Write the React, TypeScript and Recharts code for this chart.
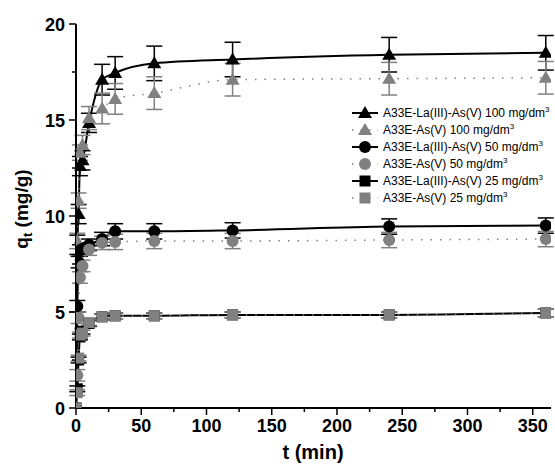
import React from "react";
import { ComposedChart, Line, XAxis, YAxis, ErrorBar, Customized } from "recharts";

const times = [0, 1, 2, 3, 5, 10, 20, 30, 60, 120, 240, 360];
const la100 = [0, 8.5, 10.1, 12.6, 12.9, 14.85, 17.1, 17.45, 17.95, 18.15, 18.4, 18.5];
const as100 = [0, 8.7, 10.8, 13.3, 13.7, 15.1, 15.6, 16.1, 16.4, 17.1, 17.15, 17.2];
const la50 = [0, 5.3, 7.6, 8.2, 8.3, 8.5, 8.8, 9.2, 9.2, 9.25, 9.45, 9.5];
const as50 = [0, 1.7, 4.7, 6.8, 7.4, 8.25, 8.6, 8.65, 8.7, 8.7, 8.75, 8.8];
const la25 = [0, 1.0, 2.5, 3.7, 4.0, 4.4, 4.75, 4.8, 4.8, 4.85, 4.85, 4.95];
const as25 = [0, 0.8, 2.6, 3.8, 3.9, 4.45, 4.75, 4.8, 4.8, 4.85, 4.85, 4.95];
const errLa100 = [0, 0.5, 0.5, 0.5, 0.5, 0.5, 0.8, 0.85, 0.9, 0.9, 0.9, 0.9];
const errAs100 = [0, 0.4, 0.4, 0.4, 0.5, 0.6, 0.8, 0.8, 0.85, 0.85, 0.85, 0.85];
const errLa50 = [0, 0.3, 0.3, 0.3, 0.3, 0.3, 0.35, 0.4, 0.4, 0.4, 0.4, 0.4];
const errAs50 = [0, 0.3, 0.3, 0.3, 0.3, 0.3, 0.35, 0.4, 0.4, 0.4, 0.4, 0.4];
const errLa25 = [0, 0.15, 0.15, 0.15, 0.15, 0.15, 0.15, 0.15, 0.15, 0.15, 0.15, 0.2];
const errAs25 = [0, 0.15, 0.15, 0.15, 0.15, 0.15, 0.15, 0.15, 0.15, 0.15, 0.15, 0.2];
const xTicks = [0, 25, 50, 75, 100, 125, 150, 175, 200, 225, 250, 275, 300, 325, 350];
const yTicks = [0, 2.5, 5, 7.5, 10, 12.5, 15, 17.5, 20];

const legendNames = [
  "A33E-La(III)-As(V) 100 mg/dm",
  "A33E-As(V) 100 mg/dm",
  "A33E-La(III)-As(V) 50 mg/dm",
  "A33E-As(V) 50 mg/dm",
  "A33E-La(III)-As(V) 25 mg/dm",
  "A33E-As(V) 25 mg/dm",
];

const BLACK = "#000000";
const GREY = "#808080";
const FONT = "'Liberation Sans', Arial, sans-serif";

const data = times.map((t, i) => ({
  t,
  la100: la100[i], as100: as100[i], la50: la50[i], as50: as50[i], la25: la25[i], as25: as25[i],
  eLa100: errLa100[i], eAs100: errAs100[i], eLa50: errLa50[i], eAs50: errAs50[i], eLa25: errLa25[i], eAs25: errAs25[i],
}));

type Shape = "tri" | "circ" | "sq";

const Marker = ({ cx, cy, shape, fill }: { cx: number; cy: number; shape: Shape; fill: string }) => {
  if (cx == null || cy == null) return null;
  if (shape === "tri")
    return <path d={`M${cx},${cy - 7} L${cx + 7},${cy + 5} L${cx - 7},${cy + 5} Z`} fill={fill} />;
  if (shape === "circ") return <circle cx={cx} cy={cy} r={6} fill={fill} />;
  return <rect x={cx - 5.5} y={cy - 5.5} width={11} height={11} fill={fill} />;
};

const series: { key: string; err: string; shape: Shape; color: string; dotted: boolean }[] = [
  { key: "la100", err: "eLa100", shape: "tri", color: BLACK, dotted: false },
  { key: "as100", err: "eAs100", shape: "tri", color: GREY, dotted: true },
  { key: "la50", err: "eLa50", shape: "circ", color: BLACK, dotted: false },
  { key: "as50", err: "eAs50", shape: "circ", color: GREY, dotted: true },
  { key: "la25", err: "eLa25", shape: "sq", color: BLACK, dotted: false },
  { key: "as25", err: "eAs25", shape: "sq", color: GREY, dotted: true },
];

const XTick = (props: any) => {
  const { x, y, payload } = props;
  const major = payload.value % 50 === 0;
  return (
    <g>
      <line x1={x} x2={x} y1={y} y2={y + (major ? 7 : 4)} stroke={BLACK} strokeWidth={1.5} />
      {major && (
        <text x={x} y={y + 24} textAnchor="middle" fontFamily={FONT} fontWeight="bold" fontSize={18} fill={BLACK}>
          {payload.value}
        </text>
      )}
    </g>
  );
};

const YTick = (props: any) => {
  const { x, y, payload } = props;
  const major = payload.value % 5 === 0;
  return (
    <g>
      <line x1={x} x2={x - (major ? 7 : 4)} y1={y} y2={y} stroke={BLACK} strokeWidth={1.5} />
      {major && (
        <text x={x - 11} y={y + 6.5} textAnchor="end" fontFamily={FONT} fontWeight="bold" fontSize={18} fill={BLACK}>
          {payload.value}
        </text>
      )}
    </g>
  );
};

const Overlay = () => (
  <g>
    <text transform="translate(28,209) rotate(-90)" textAnchor="middle" fontFamily={FONT} fontWeight="bold" fontSize={19} fill={BLACK}>
      q<tspan fontSize={13} dy={4}>t</tspan>
      <tspan dy={-4}> (mg/g)</tspan>
    </text>
    <text x={313} y={459} textAnchor="middle" fontFamily={FONT} fontWeight="bold" fontSize={20} fill={BLACK}>
      t (min)
    </text>
    <g transform="translate(346,105)">
      {series.map((s, i) => {
        const y = 8 + i * 17;
        return (
          <g key={s.key}>
            <line x1={6} x2={32} y1={y} y2={y} stroke={s.color} strokeWidth={s.dotted ? 1.5 : 2}
              strokeDasharray={s.dotted ? "1.5 7" : undefined} />
            <Marker cx={19} cy={y} shape={s.shape} fill={s.color} />
            <text x={37} y={y + 4} fontFamily={FONT} fontSize={12} fill={BLACK}>
              {legendNames[i]}
              <tspan fontSize={8} dy={-5}>3</tspan>
            </text>
          </g>
        );
      })}
    </g>
  </g>
);

export default function App() {
  return (
    <div style={{ position: "absolute", left: 0, top: 0, width: 555, height: 475, background: "#fff" }}>
      <ComposedChart width={555} height={475} data={data} margin={{ top: 24, right: 4, bottom: 0, left: 0 }}>
        <XAxis dataKey="t" type="number" domain={[0, 364]} ticks={xTicks} interval={0} allowDataOverflow
          tick={<XTick />} tickLine={false} tickSize={0} tickMargin={0} height={67}
          axisLine={{ stroke: BLACK, strokeWidth: 2 }} />
        <YAxis type="number" domain={[0, 20]} ticks={yTicks} interval={0} allowDataOverflow
          tick={<YTick />} tickLine={false} tickSize={0} tickMargin={0} width={76}
          axisLine={{ stroke: BLACK, strokeWidth: 2 }} />
        {series.map((s) => (
          <Line key={s.key} dataKey={s.key} type="monotone" stroke={s.color}
            strokeWidth={s.dotted ? 1.5 : 2} strokeDasharray={s.dotted ? "1.5 8" : undefined}
            isAnimationActive={false}
            dot={(p: any) => <Marker key={`${s.key}-${p.index}`} cx={p.cx} cy={p.cy} shape={s.shape} fill={s.color} />}
            activeDot={false}>
            <ErrorBar dataKey={s.err} width={8} stroke={s.color} strokeWidth={1.5} direction="y" />
          </Line>
        ))}
        <Customized component={<Overlay />} />
      </ComposedChart>
    </div>
  );
}
